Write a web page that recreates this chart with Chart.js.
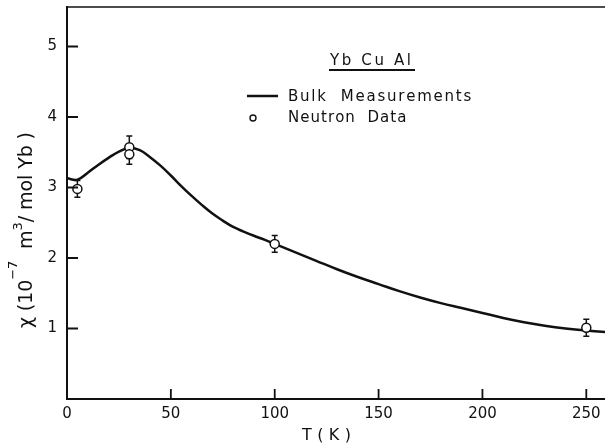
<!DOCTYPE html>
<html>
<head>
<meta charset="utf-8">
<title>YbCuAl susceptibility</title>
<style>
  body { margin: 0; background: #ffffff; }
  canvas { display: block; }
</style>
<script src="https://cdn.jsdelivr.net/npm/chart.js@4.4.1/dist/chart.umd.min.js"></script>
</head>
<body>
<canvas id="chi" width="605" height="445"></canvas>
<script>
// bulk susceptibility, T in K, chi in 10^-7 m^3/mol Yb
var bulkT   = [0, 5, 10, 15, 20, 25, 30, 35, 40, 45, 50, 55, 60, 65, 70, 75, 80, 85, 90, 95, 100, 110, 120, 130, 140, 150, 160, 170, 180, 190, 200, 210, 220, 230, 240, 250, 259];
var bulkChi = [3.13, 3.11, 3.21, 3.32, 3.42, 3.51, 3.56, 3.53, 3.43, 3.31, 3.17, 3.02, 2.88, 2.75, 2.63, 2.53, 2.44, 2.375, 2.315, 2.26, 2.20, 2.08, 1.96, 1.84, 1.73, 1.63, 1.53, 1.44, 1.36, 1.29, 1.22, 1.15, 1.09, 1.04, 1.00, 0.97, 0.95];

// neutron points with error bars
var neutronT   = [5, 30, 30, 100, 250];
var neutronChi = [2.98, 3.57, 3.47, 2.20, 1.01];
var neutronErr = [0.12, 0.16, 0.14, 0.12, 0.12];

var xTicks = [0, 50, 100, 150, 200, 250];
var yTicks = [1, 2, 3, 4, 5];

var family = '"DejaVu Sans", sans-serif';
var ink = '#111111';

// draws text char by char, spread out to a given width
function drawSpaced(ctx, parts, x, y, width) {
  var natural = 0, count = 0;
  parts.forEach(function (p) {
    ctx.font = p.font;
    natural += ctx.measureText(p.text).width;
    count += p.text.length;
  });
  var gap = count > 1 ? (width - natural) / (count - 1) : 0;
  var cx = x;
  parts.forEach(function (p) {
    ctx.font = p.font;
    for (var i = 0; i < p.text.length; i++) {
      var ch = p.text[i];
      ctx.fillText(ch, cx, y + (p.dy || 0));
      cx += ctx.measureText(ch).width + gap;
    }
  });
}

// no extra room around the axes, the plot area is set by afterFit
function noPadding(s) {
  s.paddingTop = 0;
  s.paddingBottom = 0;
  s.paddingLeft = 0;
  s.paddingRight = 0;
}

var decor = {
  id: 'decor',
  beforeDatasetsDraw: function (chart) {
    var ctx = chart.ctx, xs = chart.scales.x, ys = chart.scales.y;
    ctx.save();
    ctx.strokeStyle = ink;
    ctx.lineWidth = 1.5;
    ctx.beginPath();
    for (var i = 0; i < neutronT.length; i++) {
      var x = xs.getPixelForValue(neutronT[i]);
      var y1 = ys.getPixelForValue(neutronChi[i] + neutronErr[i]);
      var y2 = ys.getPixelForValue(neutronChi[i] - neutronErr[i]);
      ctx.moveTo(x, y1); ctx.lineTo(x, y2);
      ctx.moveTo(x - 3, y1); ctx.lineTo(x + 3, y1);
      ctx.moveTo(x - 3, y2); ctx.lineTo(x + 3, y2);
    }
    ctx.stroke();
    ctx.restore();
  },
  afterDraw: function (chart) {
    var ctx = chart.ctx, a = chart.chartArea;
    var xs = chart.scales.x, ys = chart.scales.y;
    ctx.save();
    ctx.strokeStyle = ink;
    ctx.fillStyle = ink;

    // top frame line
    ctx.lineWidth = 1.6;
    ctx.beginPath();
    ctx.moveTo(a.left, a.top);
    ctx.lineTo(a.right, a.top);
    ctx.stroke();

    // inward tick marks
    ctx.lineWidth = 1.8;
    ctx.beginPath();
    xTicks.forEach(function (t) {
      if (t === 0) return;
      var x = xs.getPixelForValue(t);
      ctx.moveTo(x, a.bottom);
      ctx.lineTo(x, a.bottom - 10);
    });
    yTicks.forEach(function (v) {
      var y = ys.getPixelForValue(v);
      ctx.moveTo(a.left, y);
      ctx.lineTo(a.left + 11, y);
    });
    ctx.stroke();

    ctx.textBaseline = 'alphabetic';
    ctx.textAlign = 'left';

    // compound name, underlined
    drawSpaced(ctx, [{ text: 'Yb Cu Al', font: '15px ' + family }], 330, 65, 81);
    ctx.lineWidth = 2;
    ctx.beginPath();
    ctx.moveTo(329, 70);
    ctx.lineTo(415, 70);
    ctx.stroke();

    // legend
    ctx.lineWidth = 2.5;
    ctx.beginPath();
    ctx.moveTo(247, 96);
    ctx.lineTo(278, 96);
    ctx.stroke();
    drawSpaced(ctx, [{ text: 'Bulk  Measurements', font: '15px ' + family }], 288, 101, 183);

    ctx.lineWidth = 1.4;
    ctx.beginPath();
    ctx.arc(253, 118, 3, 0, Math.PI * 2);
    ctx.stroke();
    drawSpaced(ctx, [{ text: 'Neutron  Data', font: '15px ' + family }], 288, 122, 118);

    // axis titles
    drawSpaced(ctx, [{ text: 'T ( K )', font: '16px ' + family }], 302, 440, 49);

    ctx.translate(32, 328);
    ctx.rotate(-Math.PI / 2);
    drawSpaced(ctx, [
      { text: 'χ (10', font: '19px ' + family },
      { text: '−7', font: '13px ' + family, dy: -15 },
      { text: '  m', font: '19px ' + family },
      { text: '3', font: '13px ' + family, dy: -10 },
      { text: '/ mol Yb )', font: '19px ' + family }
    ], 0, 0, 196);

    ctx.restore();
  }
};

var tickFont = { family: family, size: 15 };

new Chart(document.getElementById('chi'), {
  data: {
    datasets: [
      {
        type: 'scatter',
        label: 'Neutron Data',
        data: neutronT.map(function (t, i) { return { x: t, y: neutronChi[i] }; }),
        pointRadius: 4.5,
        pointBackgroundColor: '#ffffff',
        pointBorderColor: ink,
        pointBorderWidth: 1.5,
        order: 0
      },
      {
        type: 'line',
        label: 'Bulk Measurements',
        data: bulkT.map(function (t, i) { return { x: t, y: bulkChi[i] }; }),
        borderColor: ink,
        borderWidth: 2.5,
        pointRadius: 0,
        fill: false,
        tension: 0.4,
        order: 1
      }
    ]
  },
  options: {
    responsive: false,
    animation: false,
    layout: { autoPadding: false, padding: { top: 7, right: 0, bottom: 0, left: 0 } },
    plugins: {
      legend: { display: false },
      tooltip: { enabled: false }
    },
    scales: {
      x: {
        type: 'linear',
        min: 0,
        max: 259,
        afterBuildTicks: function (s) { s.ticks = xTicks.map(function (v) { return { value: v }; }); },
        afterFit: function (s) { s.height = 46; noPadding(s); },
        grid: { display: false, drawTicks: false },
        border: { display: true, color: ink, width: 2 },
        ticks: { font: tickFont, color: ink, padding: 6, maxRotation: 0, autoSkip: false }
      },
      y: {
        type: 'linear',
        min: 0,
        max: 5.56,
        afterBuildTicks: function (s) { s.ticks = yTicks.map(function (v) { return { value: v }; }); },
        afterFit: function (s) { s.width = 67; noPadding(s); },
        grid: { display: false, drawTicks: false },
        border: { display: true, color: ink, width: 2 },
        ticks: { font: tickFont, color: ink, padding: 10, autoSkip: false }
      }
    }
  },
  plugins: [decor]
});
</script>
</body>
</html>
